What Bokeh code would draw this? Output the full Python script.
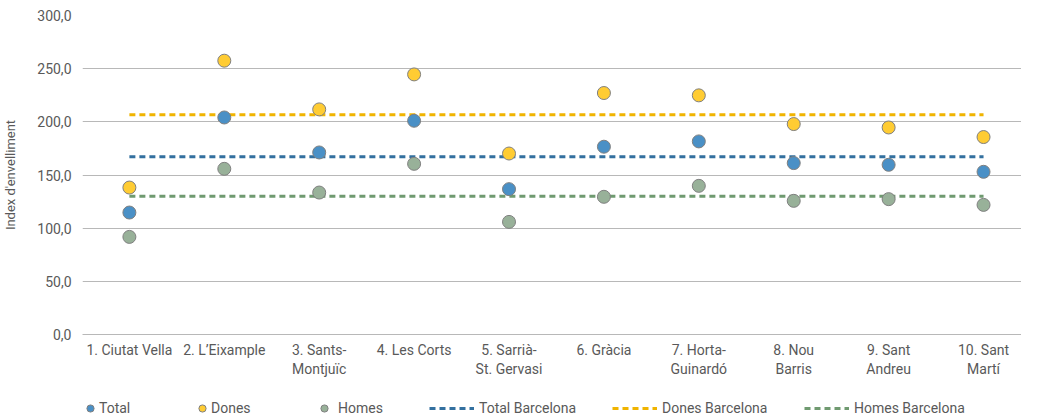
from bokeh.plotting import figure
from bokeh.layouts import column
from bokeh.models import Range1d, FixedTicker, Legend, LegendItem
from bokeh.embed import file_html
from bokeh.resources import INLINE

districts = ["1. Ciutat Vella", "2. L\u2019Eixample", "3. Sants-\nMontju\u00efc", "4. Les Corts",
             "5. Sarri\u00e0-\nSt. Gervasi", "6. Gr\u00e0cia", "7. Horta-\nGuinard\u00f3",
             "8. Nou\nBarris", "9. Sant\nAndreu", "10. Sant\nMart\u00ed"]
total = [114.7, 204.1, 171.2, 201.0, 136.7, 176.6, 181.6, 161.2, 159.6, 153.0]
dones = [138.2, 257.5, 211.7, 244.6, 170.2, 227.1, 224.9, 197.9, 194.7, 185.7]
homes = [91.8, 155.8, 133.5, 160.5, 105.9, 129.5, 139.8, 125.7, 127.3, 121.9]
total_bcn = 167.1
dones_bcn = 206.7
homes_bcn = 130.1
y_ticks = [0, 50, 100, 150, 200, 250, 300]

FONT = "Roboto"
TXT = "#595959"
C_TOT, C_DON, C_HOM = "#4a90c6", "#ffcc33", "#98b199"
L_TOT, L_DON, L_HOM = "#33709f", "#f0b400", "#6f9a70"
EDGE = "#808080"
DASH = "6 4"

xs = list(range(len(districts)))
first, last = xs[0], xs[-1]


def add_series(fig):
    lt = fig.line([first, last], [total_bcn, total_bcn], line_color=L_TOT, line_width=3, line_dash=DASH)
    ld = fig.line([first, last], [dones_bcn, dones_bcn], line_color=L_DON, line_width=3, line_dash=DASH)
    lh = fig.line([first, last], [homes_bcn, homes_bcn], line_color=L_HOM, line_width=3, line_dash=DASH)
    st = fig.scatter(xs, total, size=13, fill_color=C_TOT, line_color=EDGE, line_width=1)
    sd = fig.scatter(xs, dones, size=13, fill_color=C_DON, line_color=EDGE, line_width=1)
    sh = fig.scatter(xs, homes, size=13, fill_color=C_HOM, line_color=EDGE, line_width=1)
    return st, sd, sh, lt, ld, lh


p = figure(width=1021, height=392, output_backend="svg", toolbar_location=None,
           x_range=Range1d(-0.494, len(districts) - 1 + 0.4), y_range=Range1d(0, 300),
           min_border_left=73, min_border_right=0, min_border_top=15, min_border_bottom=58)
p.outline_line_color = None
p.background_fill_color = "white"
p.border_fill_color = "white"

p.xgrid.visible = False
p.ygrid.grid_line_color = "#b8b8b8"
p.ygrid.grid_line_width = 1

p.yaxis.ticker = FixedTicker(ticks=y_ticks)
p.yaxis.major_label_overrides = {t: f"{t:.1f}".replace(".", ",") for t in y_ticks}
p.xaxis.ticker = FixedTicker(ticks=xs)
p.xaxis.major_label_overrides = {i: d for i, d in enumerate(districts)}

for ax in (p.xaxis[0], p.yaxis[0]):
    ax.major_tick_line_color = None
    ax.minor_tick_line_color = None
    ax.major_label_text_font = FONT
    ax.major_label_text_font_size = "14px"
    ax.major_label_text_color = TXT
p.yaxis.axis_line_color = None
p.xaxis.axis_line_color = "#b8b8b8"
p.yaxis.major_label_standoff = 5
p.xaxis.major_label_standoff = 1
p.yaxis.axis_label = "Index d'envelliment"
p.yaxis.axis_label_text_font = FONT
p.yaxis.axis_label_text_font_size = "13px"
p.yaxis.axis_label_text_font_style = "normal"
p.yaxis.axis_label_text_color = TXT
p.yaxis.axis_label_standoff = 16

add_series(p)

# legend strip (same series, drawn out of its view; only the legend is visible)
lg_fig = figure(width=1021, height=27, output_backend="svg", toolbar_location=None,
                x_range=Range1d(0, 1), y_range=Range1d(-2, -1), x_axis_type=None, y_axis_type=None,
                min_border=0, min_border_left=0, min_border_right=0, min_border_top=0, min_border_bottom=0)
lg_fig.outline_line_color = None
lg_fig.grid.visible = False
lg_fig.border_fill_color = "white"

r_tot, r_don, r_hom, r_ltot, r_ldon, r_lhom = add_series(lg_fig)

items = [
    ("Total", r_tot, -1, 18, 0),
    ("Dones", r_don, 111, 18, 0),
    ("Homes", r_hom, 233, 18, 5),
    ("Total Barcelona", r_ltot, 347, 45, 5),
    ("Dones Barcelona", r_ldon, 530, 45, 5),
    ("Homes Barcelona", r_lhom, 722, 45, 5),
]
for label, r, x, gw, so in items:
    lg = Legend(items=[LegendItem(label=label, renderers=[r])], location=(x, 2),
                orientation="horizontal", glyph_width=gw, glyph_height=18, label_height=14,
                label_standoff=so, padding=0, margin=0, spacing=0,
                label_text_font=FONT, label_text_font_size="14px", label_text_color=TXT,
                background_fill_alpha=0, border_line_color=None)
    lg_fig.add_layout(lg, "center")

layout = column(p, lg_fig, spacing=0)
open("out.html", "w").write(file_html(layout, INLINE))
